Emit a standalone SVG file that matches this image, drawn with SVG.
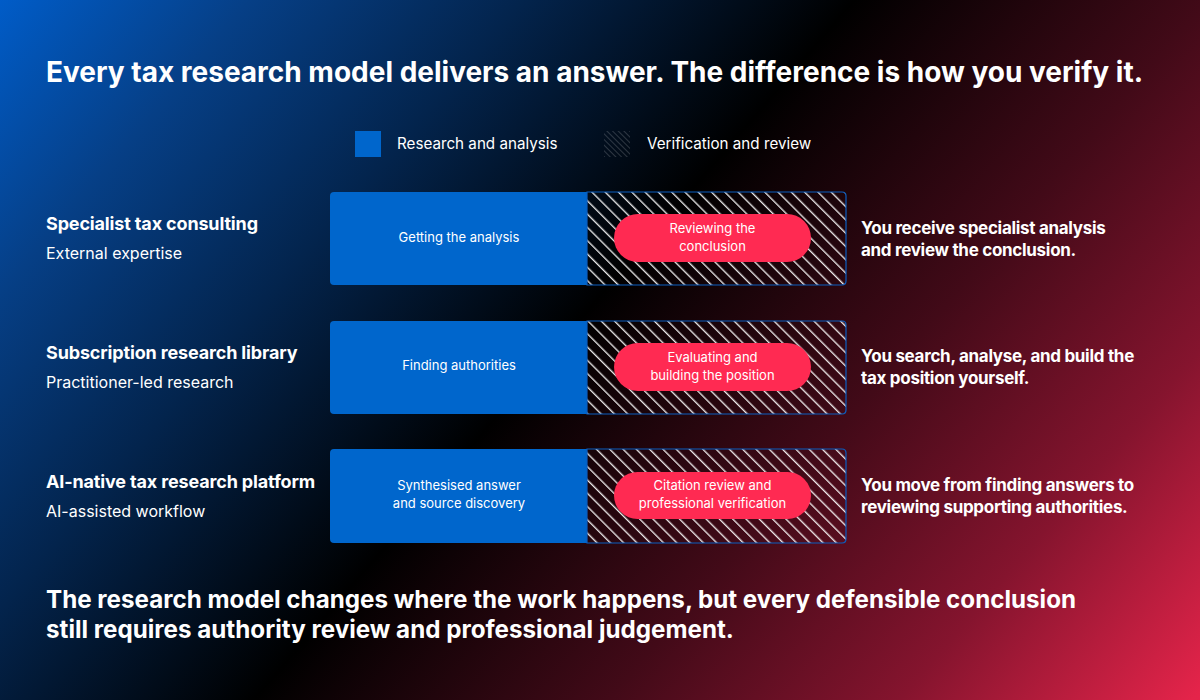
<svg xmlns="http://www.w3.org/2000/svg" width="1200" height="700" viewBox="0 0 1200 700">
<defs>
<linearGradient id="bg" x1="0" y1="0" x2="1200" y2="1030" gradientUnits="userSpaceOnUse">
<stop offset="0" stop-color="#005cc8"/>
<stop offset="0.12" stop-color="#063f86"/>
<stop offset="0.25" stop-color="#03244d"/>
<stop offset="0.41" stop-color="#000000"/>
<stop offset="0.58" stop-color="#420a18"/>
<stop offset="0.72" stop-color="#85142e"/>
<stop offset="0.86" stop-color="#e4244a"/>
<stop offset="1" stop-color="#ff2a52"/>
</linearGradient>
<pattern id="hatch" patternUnits="userSpaceOnUse" width="9.4" height="9.4" patternTransform="rotate(-45)">
<line x1="0.7" y1="0" x2="0.7" y2="9.4" stroke="#ffffff" stroke-opacity="0.95" stroke-width="1.3"/>
</pattern>
<pattern id="hatchLegend" patternUnits="userSpaceOnUse" width="4" height="4" patternTransform="rotate(-45)">
<line x1="0" y1="0" x2="0" y2="4" stroke="#ffffff" stroke-opacity="0.35" stroke-width="1"/>
</pattern>
<style>
.title{font-family:Inter,"Liberation Sans",sans-serif;font-weight:700;fill:#fff;}
.lbl{font-family:Inter,"Liberation Sans",sans-serif;fill:#fff;}
.row-title{font-family:Inter,"Liberation Sans",sans-serif;font-weight:700;font-size:18px;fill:#fff;letter-spacing:-0.15px;}
.row-sub{font-family:Inter,"Liberation Sans",sans-serif;font-size:16px;fill:#fff;}
.bar-text{font-family:Inter,"Liberation Sans",sans-serif;font-size:13px;fill:#fff;text-anchor:middle;}
.blue{fill:#0066cc;}
.hatched{fill:url(#hatch);stroke:#0b5ec0;stroke-width:1.2;}
.pill{fill:#ff2a52;}
.right{font-family:Inter,"Liberation Sans",sans-serif;font-weight:700;font-size:17px;fill:#fff;letter-spacing:-0.3px;}
</style>
</defs>
<rect width="1200" height="700" fill="url(#bg)"/>
<text class="title" x="46" y="82" font-size="28">Every tax research model delivers an answer. The difference is how you verify it.</text>
<g id="legend">
<rect x="355" y="131" width="26" height="26" class="blue"/>
<text class="lbl" x="397" y="149" font-size="15.2">Research and analysis</text>
<rect x="604" y="131" width="26" height="26" fill="url(#hatchLegend)"/>
<text class="lbl" x="647" y="149" font-size="15.2">Verification and review</text>
</g>
<g id="row1">
<text class="row-title" x="46" y="230">Specialist tax consulting</text>
<text class="row-sub" x="46" y="259">External expertise</text>
<path d="M334,192 H587 V285 H334 Q330,285 330,281 V196 Q330,192 334,192 Z" class="blue"/>
<path d="M587,192 H842 Q846,192 846,196 V281 Q846,285 842,285 H587 Z" class="hatched"/>
<text class="bar-text" x="459" y="242">Getting the analysis</text>
<rect x="614" y="214" width="197" height="48" rx="24" class="pill"/>
<text class="bar-text" x="712.5" y="233">Reviewing the</text>
<text class="bar-text" x="712.5" y="251">conclusion</text>
<text class="right" x="861" y="234">You receive specialist analysis</text>
<text class="right" x="861" y="256">and review the conclusion.</text>
</g>
<g id="row2">
<text class="row-title" x="46" y="359">Subscription research library</text>
<text class="row-sub" x="46" y="388">Practitioner-led research</text>
<path d="M334,321 H587 V414 H334 Q330,414 330,410 V325 Q330,321 334,321 Z" class="blue"/>
<path d="M587,321 H842 Q846,321 846,325 V410 Q846,414 842,414 H587 Z" class="hatched"/>
<text class="bar-text" x="459" y="370">Finding authorities</text>
<rect x="614" y="343" width="197" height="48" rx="24" class="pill"/>
<text class="bar-text" x="712.5" y="362">Evaluating and</text>
<text class="bar-text" x="712.5" y="380">building the position</text>
<text class="right" x="861" y="362">You search, analyse, and build the</text>
<text class="right" x="861" y="384">tax position yourself.</text>
</g>
<g id="row3">
<text class="row-title" x="46" y="488">AI-native tax research platform</text>
<text class="row-sub" x="46" y="517">AI-assisted workflow</text>
<path d="M334,449 H587 V543 H334 Q330,543 330,539 V453 Q330,449 334,449 Z" class="blue"/>
<path d="M587,449 H842 Q846,449 846,453 V539 Q846,543 842,543 H587 Z" class="hatched"/>
<text class="bar-text" x="459" y="490">Synthesised answer</text>
<text class="bar-text" x="459" y="508">and source discovery</text>
<rect x="614" y="472" width="197" height="47" rx="23.5" class="pill"/>
<text class="bar-text" x="712.5" y="490">Citation review and</text>
<text class="bar-text" x="712.5" y="508">professional verification</text>
<text class="right" x="861" y="491">You move from finding answers to</text>
<text class="right" x="861" y="513">reviewing supporting authorities.</text>
</g>
<g id="connectors"></g>
<text class="title" x="46" y="608" font-size="24.2">The research model changes where the work happens, but every defensible conclusion</text>
<text class="title" x="46" y="638" font-size="24.2">still requires authority review and professional judgement.</text>
</svg>
